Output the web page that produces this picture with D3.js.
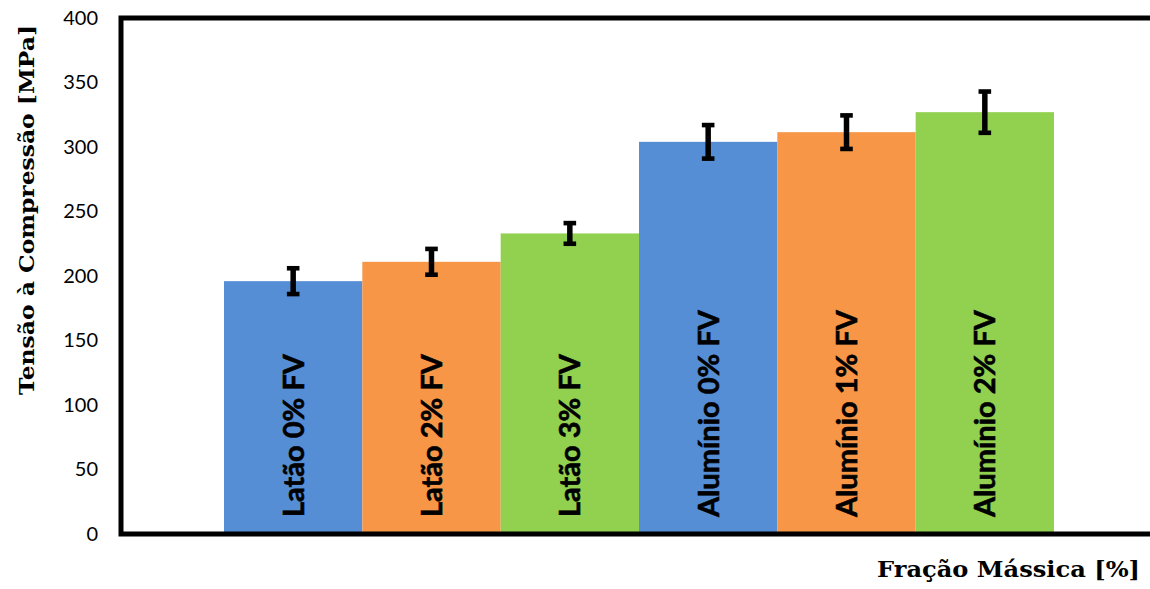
<!DOCTYPE html>
<html>
<head>
<meta charset="utf-8">
<script src="https://cdn.jsdelivr.net/npm/d3@7"></script>
<style>
  html, body { margin: 0; padding: 0; background: #fff; }
  svg { display: block; }
</style>
</head>
<body>
<svg id="chart" width="1150" height="589"></svg>
<script>
// Compression strength per sample (mean and deviation, MPa)
const categories = ["Latão 0% FV", "Latão 2% FV", "Latão 3% FV",
                    "Alumínio 0% FV", "Alumínio 1% FV", "Alumínio 2% FV"];
const values = [196, 211, 233, 304, 311.5, 327];
const errors = [10, 10, 8, 13, 13, 16];
const colors = ["#558ED5", "#F79646", "#92D050", "#558ED5", "#F79646", "#92D050"];
const yTicks = [0, 50, 100, 150, 200, 250, 300, 350, 400];

const svg = d3.select("#chart");
const plot = { left: 121, right: 1157, top: 18, bottom: 534 };

const x = d3.scaleBand()
  .domain(categories)
  .range([plot.left, plot.right])
  .paddingInner(0)
  .paddingOuter(0.7446);

const y = d3.scaleLinear()
  .domain([0, 400])
  .range([plot.bottom, plot.top]);

// bars
svg.append("g").selectAll("rect")
  .data(categories)
  .join("rect")
  .attr("x", d => x(d))
  .attr("width", x.bandwidth())
  .attr("y", (d, i) => y(values[i]))
  .attr("height", (d, i) => y(0) - y(values[i]))
  .attr("fill", (d, i) => colors[i]);

// error bars
const eb = svg.append("g").selectAll("g")
  .data(categories)
  .join("g")
  .attr("transform", d => `translate(${x(d) + x.bandwidth() / 2},0)`);
eb.append("line")
  .attr("y1", (d, i) => y(values[i] + errors[i]))
  .attr("y2", (d, i) => y(values[i] - errors[i]))
  .attr("stroke", "#000").attr("stroke-width", 5.5);
[1, -1].forEach(s => {
  eb.append("line")
    .attr("x1", -6.3).attr("x2", 6.3)
    .attr("y1", (d, i) => y(values[i] + s * errors[i]))
    .attr("y2", (d, i) => y(values[i] + s * errors[i]))
    .attr("stroke", "#000").attr("stroke-width", 4.6);
});

// category labels inside the bars
svg.append("g").selectAll("text")
  .data(categories)
  .join("text")
  .attr("transform", d => `translate(${x(d) + x.bandwidth() / 2},517) rotate(-90)`)
  .attr("dy", "0.36em")
  .attr("text-anchor", "start")
  .style("font-family", "Lato, 'Open Sans', sans-serif")
  .style("font-weight", "bold")
  .style("font-size", "29px")
  .attr("fill", "#000")
  .attr("stroke", "#000")
  .attr("stroke-width", 0.6)
  .text(d => d);

// y axis tick labels
const yAxis = d3.axisLeft(y).tickValues(yTicks).tickSize(0).tickPadding(0);
const ya = svg.append("g")
  .attr("transform", "translate(98,0)")
  .call(yAxis);
ya.select(".domain").remove();
ya.selectAll("text")
  .style("font-family", "Lato, sans-serif")
  .style("font-size", "20px")
  .attr("fill", "#000");

// frame lines: left, top, bottom
const frame = svg.append("g").attr("stroke", "#000").attr("stroke-width", 5).attr("fill", "none");
frame.append("path")
  .attr("d", `M1150,${plot.top} H${plot.left} V${plot.bottom} H1150`)
  .attr("stroke-linejoin", "miter");

// axis titles
svg.append("text")
  .attr("transform", `translate(34,210) rotate(-90)`)
  .attr("text-anchor", "middle")
  .attr("textLength", 370)
  .attr("lengthAdjust", "spacingAndGlyphs")
  .style("font-family", "'DejaVu Serif', serif")
  .style("font-weight", "bold")
  .style("font-size", "20.5px")
  .text("Tensão à Compressão [MPa]");

svg.append("text")
  .attr("x", 1140).attr("y", 577)
  .attr("text-anchor", "end")
  .attr("textLength", 263)
  .attr("lengthAdjust", "spacingAndGlyphs")
  .style("font-family", "'DejaVu Serif', serif")
  .style("font-weight", "bold")
  .style("font-size", "21.5px")
  .text("Fração Mássica [%]");
</script>
</body>
</html>
